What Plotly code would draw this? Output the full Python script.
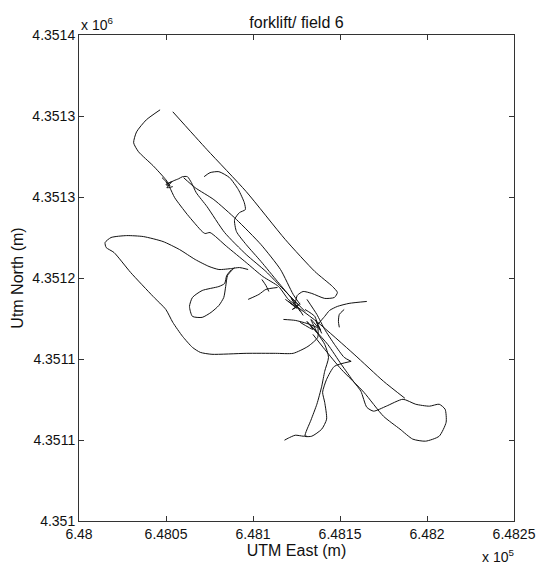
import plotly.graph_objects as go

EAST0 = 648000.0
NORTH0 = 4351000.0

# GPS track pieces: metres east of EAST0 and north of NORTH0
rect_right_e = [53.9, 73.6, 96.1, 118.6, 135.5, 145.7, 148.5, 146.8, 141.2, 133.8, 128.8, 125.4, 124.3]
rect_right_n = [336.8, 305.6, 271.1, 231.6, 205.4, 193.0, 188.1, 184.0, 183.2, 187.3, 188.9, 185.6, 179.1]

rect_left_e = [46.6, 38.7, 33.1, 31.4, 34.2, 42.6, 49.9, 52.2]
rect_left_n = [338.4, 330.2, 320.3, 311.3, 303.9, 292.4, 280.9, 276.0]

knot_a_e = [49.9, 52.2, 55.0, 62.3, 70.8, 72.5, 75.3, 84.9, 96.1, 105.7, 114.7, 120.3, 125.4, 128.8]
knot_a_n = [279.3, 274.3, 266.1, 252.2, 238.2, 236.6, 237.4, 225.9, 212.7, 201.2, 193.0, 182.4, 176.6, 169.2]

knot_b_e = [51.1, 54.5, 57.3, 59.5, 62.3, 64.6, 67.4, 73.6, 83.7, 96.1, 107.4, 117.5, 124.3, 129.9]
knot_b_n = [277.6, 280.1, 281.7, 283.4, 283.4, 278.5, 270.2, 258.7, 237.4, 219.3, 205.4, 190.6, 180.7, 172.5]

extra_e = [60.1, 66.8, 77.5, 90.5, 104.6, 115.8, 123.1, 127.1]
extra_n = [282.6, 274.3, 264.5, 248.1, 227.5, 207.0, 186.5, 178.2]

inner_e = [71.9, 75.3, 80.4, 86.5, 91.6, 95.0, 95.6, 92.2, 89.4, 90.5, 96.1, 104.6, 114.1, 122.6, 127.1]
inner_n = [283.4, 286.7, 287.5, 282.6, 272.7, 262.0, 256.3, 253.8, 248.1, 238.2, 227.5, 213.6, 197.1, 182.4, 172.5]

left_e = [97.2, 92.2, 87.7, 80.4, 74.7, 66.8, 57.8, 48.3, 37.0, 27.4, 18.4, 15.0, 15.6, 20.1, 29.7,
          42.6, 49.9, 53.9, 59.5, 65.2, 69.7, 76.4, 96.1, 113.0, 123.1, 131.6, 137.2, 137.2, 135.5, 129.9]
left_n = [207.0, 208.6, 207.8, 207.0, 209.5, 215.2, 223.4, 230.0, 234.1, 234.9, 233.3, 229.2, 225.1, 221.0, 204.5,
          184.8, 174.1, 163.5, 152.0, 142.9, 138.8, 137.2, 138.0, 138.0, 138.0, 143.7, 151.1, 160.2, 168.4, 174.1]

pear_e = [87.7, 84.9, 83.7, 80.4, 70.8, 65.2, 63.5, 65.2, 70.8, 75.9, 80.4, 83.2, 84.3, 85.4, 89.4]
pear_n = [207.0, 202.1, 195.5, 193.0, 189.7, 184.0, 176.6, 168.4, 167.6, 171.7, 177.4, 184.0, 193.0, 202.1, 208.6]

short1_e = [97.2, 103.4, 107.4, 114.1]
short1_n = [182.4, 186.5, 190.6, 192.2]

short2_e = [105.1, 107.4, 109.1]
short2_n = [198.8, 193.9, 188.9]

right1_e = [137.2, 141.2, 144.0, 148.5, 155.2, 165.4]
right1_n = [161.8, 168.4, 173.3, 176.6, 179.1, 180.7]

hook_e = [152.4, 149.6, 149.1, 149.6]
hook_n = [174.1, 170.0, 164.3, 159.4]

diag_e = [124.3, 137.2, 158.1, 175.0, 187.3]
diag_n = [177.4, 163.5, 137.2, 115.0, 101.0]

boot_e = [132.7, 142.9, 150.7, 158.1, 162.0, 165.4, 169.3, 176.6, 186.2, 193.5, 201.4, 207.0, 210.4, 211.0,
          207.0, 199.2, 191.8, 184.5, 175.0, 163.7, 150.7, 141.2, 134.4]
boot_n = [161.8, 145.4, 129.0, 114.2, 106.8, 93.6, 90.4, 94.5, 100.2, 96.1, 94.5, 96.1, 92.0, 81.3,
          69.8, 65.7, 67.4, 75.6, 86.2, 106.0, 124.9, 141.3, 153.6]

wiggle_e = [135.5, 141.2, 143.4, 141.2, 139.5, 136.7, 133.3, 129.9, 133.8, 139.5, 142.3, 141.2, 140.0, 142.3, 146.8, 156.4]
wiggle_n = [157.7, 145.4, 134.7, 123.2, 110.9, 96.1, 83.0, 69.8, 69.8, 75.6, 83.8, 97.7, 106.0, 116.6, 127.3, 131.4]

tail_e = [118.1, 120.3, 124.3, 128.8, 131.0]
tail_n = [66.5, 68.2, 70.6, 69.8, 69.8]

cross_e = [131.0, 136.7, 141.2, 146.8, 152.4, 156.4]
cross_n = [182.4, 170.0, 157.7, 145.4, 134.7, 131.4]

knot1_e = [118.6, 124.3, 120.3, 125.4, 122.0, 126.0, 122.6, 127.1]
knot1_n = [182.4, 176.6, 180.7, 175.0, 183.2, 177.4, 174.1, 179.1]

knot2_e = [127.1, 134.4, 131.0, 136.7, 133.3, 138.9, 136.1, 139.5]
knot2_n = [163.5, 157.7, 164.3, 155.2, 165.9, 156.9, 165.1, 154.4]

knot0_e = [47.7, 52.2, 49.9, 53.3, 50.5, 53.9]
knot0_n = [282.6, 276.0, 276.8, 279.3, 274.3, 275.2]

c2line_e = [117.5, 124.3, 131.0, 136.7]
c2line_n = [165.9, 165.1, 162.6, 159.4]

x_tickvals = [648000, 648050, 648100, 648150, 648200, 648250]
x_ticktext = ["6.48", "6.4805", "6.481", "6.4815", "6.482", "6.4825"]
y_tickvals = [4351000, 4351066.667, 4351133.333, 4351200, 4351266.667, 4351333.333, 4351400]
y_ticktext = ["4.351", "4.3511", "4.3511", "4.3512", "4.3513", "4.3513", "4.3514"]

segments = [
    (rect_right_e, rect_right_n), (rect_left_e, rect_left_n), (knot_a_e, knot_a_n),
    (knot_b_e, knot_b_n), (extra_e, extra_n), (inner_e, inner_n), (left_e, left_n),
    (pear_e, pear_n), (short1_e, short1_n), (short2_e, short2_n), (right1_e, right1_n),
    (hook_e, hook_n), (diag_e, diag_n), (boot_e, boot_n), (wiggle_e, wiggle_n),
    (tail_e, tail_n), (cross_e, cross_n), (knot1_e, knot1_n), (knot2_e, knot2_n),
    (knot0_e, knot0_n), (c2line_e, c2line_n),
]

xs, ys = [], []
for e, n in segments:
    xs += [EAST0 + v for v in e] + [None]
    ys += [NORTH0 + v for v in n] + [None]

fig = go.Figure()
fig.add_trace(go.Scatter(x=xs, y=ys, mode="lines", connectgaps=False,
                         line=dict(color="#111111", width=1, shape="spline", smoothing=0.6),
                         hoverinfo="skip", showlegend=False))

font = "Liberation Sans, Arial, sans-serif"
axis_common = dict(showgrid=False, zeroline=False, showline=True, linecolor="#333333", linewidth=1,
                   mirror="ticks", ticks="inside", ticklen=5, tickcolor="#333333",
                   tickfont=dict(family=font, size=14, color="#111111"))

fig.update_layout(
    width=548, height=565,
    margin=dict(l=79, r=25, t=35, b=43),
    paper_bgcolor="white", plot_bgcolor="white",
    title=dict(text="forklift/ field 6", x=0.5, xref="paper", xanchor="center",
               y=1 - 22 / 565, yref="container", yanchor="middle",
               font=dict(family=font, size=16, color="#111111")),
    xaxis=dict(range=[648000, 648250], tickvals=x_tickvals, ticktext=x_ticktext,
               title=dict(text="UTM East (m)", font=dict(family=font, size=16, color="#111111"), standoff=0),
               **axis_common),
    yaxis=dict(range=[4351000, 4351400], tickvals=y_tickvals, ticktext=y_ticktext,
               title=dict(text="Utm North (m)", font=dict(family=font, size=16, color="#111111"), standoff=4),
               **axis_common),
    annotations=[
        dict(text="x 10<sup>6</sup>", xref="paper", yref="paper", x=0, y=1, xanchor="left", yanchor="bottom",
             showarrow=False, font=dict(family=font, size=14, color="#111111")),
        dict(text="x 10<sup>5</sup>", xref="paper", yref="paper", x=1, y=0, xanchor="right", yanchor="top",
             xshift=2, yshift=-24, showarrow=False, font=dict(family=font, size=14, color="#111111")),
    ],
)

fig.write_html("out.html")
